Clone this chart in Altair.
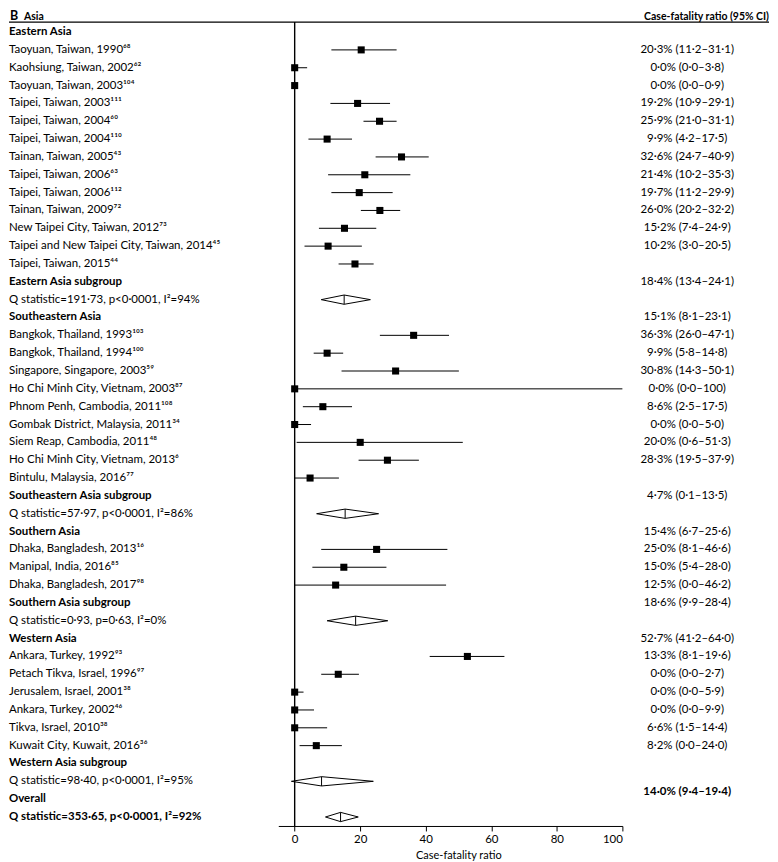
import altair as alt
import pandas as pd

# ---------------- data ----------------
labels = [
    "Eastern Asia",
    "Taoyuan, Taiwan, 1990⁶⁸",
    "Kaohsiung, Taiwan, 2002⁶²",
    "Taoyuan, Taiwan, 2003¹⁰⁴",
    "Taipei, Taiwan, 2003¹¹¹",
    "Taipei, Taiwan, 2004⁶⁰",
    "Taipei, Taiwan, 2004¹¹⁰",
    "Tainan, Taiwan, 2005⁴³",
    "Taipei, Taiwan, 2006⁶³",
    "Taipei, Taiwan, 2006¹¹²",
    "Tainan, Taiwan, 2009⁷²",
    "New Taipei City, Taiwan, 2012⁷³",
    "Taipei and New Taipei City, Taiwan, 2014⁴⁵",
    "Taipei, Taiwan, 2015⁴⁴",
    "Eastern Asia subgroup",
    "Q statistic=191·73, p<0·0001, I²=94%",
    "Southeastern Asia",
    "Bangkok, Thailand, 1993¹⁰³",
    "Bangkok, Thailand, 1994¹⁰⁰",
    "Singapore, Singapore, 2003⁵⁹",
    "Ho Chi Minh City, Vietnam, 2003⁸⁷",
    "Phnom Penh, Cambodia, 2011¹⁰⁸",
    "Gombak District, Malaysia, 2011³⁴",
    "Siem Reap, Cambodia, 2011⁴⁸",
    "Ho Chi Minh City, Vietnam, 2013⁶",
    "Bintulu, Malaysia, 2016⁷⁷",
    "Southeastern Asia subgroup",
    "Q statistic=57·97, p<0·0001, I²=86%",
    "Southern Asia",
    "Dhaka, Bangladesh, 2013¹⁶",
    "Manipal, India, 2016⁸⁵",
    "Dhaka, Bangladesh, 2017⁹⁸",
    "Southern Asia subgroup",
    "Q statistic=0·93, p=0·63, I²=0%",
    "Western Asia",
    "Ankara, Turkey, 1992⁹³",
    "Petach Tikva, Israel, 1996⁹⁷",
    "Jerusalem, Israel, 2001³⁸",
    "Ankara, Turkey, 2002⁴⁶",
    "Tikva, Israel, 2010³⁸",
    "Kuwait City, Kuwait, 2016³⁶",
    "Western Asia subgroup",
    "Q statistic=98·40, p<0·0001, I²=95%",
    "Overall",
    "Q statistic=353·65, p<0·0001, I²=92%",
]
label_rows = list(range(len(labels)))
bold_rows = [0, 14, 16, 26, 28, 32, 34, 41, 43, 44]

# individual studies (row, estimate, lower, upper)
study_rows = [1, 2, 3, 4, 5, 6, 7, 8, 9, 10, 11, 12, 13,
              17, 18, 19, 20, 21, 22, 23, 24, 25,
              29, 30, 31,
              35, 36, 37, 38, 39, 40]
study_est = [20.3, 0.0, 0.0, 19.2, 25.9, 9.9, 32.6, 21.4, 19.7, 26.0, 15.2, 10.2, 18.4,
             36.3, 9.9, 30.8, 0.0, 8.6, 0.0, 20.0, 28.3, 4.7,
             25.0, 15.0, 12.5,
             52.7, 13.3, 0.0, 0.0, 0.0, 6.6]
study_lo = [11.2, 0.0, 0.0, 10.9, 21.0, 4.2, 24.7, 10.2, 11.2, 20.2, 7.4, 3.0, 13.4,
            26.0, 5.8, 14.3, 0.0, 2.5, 0.0, 0.6, 19.5, 0.1,
            8.1, 5.4, 0.0,
            41.2, 8.1, 0.0, 0.0, 0.0, 1.5]
study_hi = [31.1, 3.8, 0.9, 29.1, 31.1, 17.5, 40.9, 35.3, 29.9, 32.2, 24.9, 20.5, 24.1,
            47.1, 14.8, 50.1, 100.0, 17.5, 5.0, 51.3, 37.9, 13.5,
            46.6, 28.0, 46.2,
            64.0, 19.6, 2.7, 5.9, 9.9, 14.4]

# pooled estimates (diamonds)
pool_rows = [15, 27, 33, 42, 44]
pool_est = [15.1, 15.4, 18.6, 8.2, 14.0]
pool_lo = [8.1, 6.7, 9.9, -1.0, 9.4]
pool_hi = [23.1, 25.6, 28.4, 24.0, 19.4]

# right-hand text column (as laid out in the figure)
ci_rows = [1, 2, 3, 4, 5, 6, 7, 8, 9, 10, 11, 12, 14, 16, 17, 18, 19, 20, 21, 22, 23, 24,
           26, 28, 29, 30, 31, 32, 34, 35, 36, 37, 38, 39, 40, 42.6]
ci_texts = [
    "20·3% (11·2–31·1)", "0·0% (0·0–3·8)", "0·0% (0·0–0·9)", "19·2% (10·9–29·1)",
    "25·9% (21·0–31·1)", "9·9% (4·2–17·5)", "32·6% (24·7–40·9)", "21·4% (10·2–35·3)",
    "19·7% (11·2–29·9)", "26·0% (20·2–32·2)", "15·2% (7·4–24·9)", "10·2% (3·0–20·5)",
    "18·4% (13·4–24·1)", "15·1% (8·1–23·1)", "36·3% (26·0–47·1)", "9·9% (5·8–14·8)",
    "30·8% (14·3–50·1)", "0·0% (0·0–100)", "8·6% (2·5–17·5)", "0·0% (0·0–5·0)",
    "20·0% (0·6–51·3)", "28·3% (19·5–37·9)", "4·7% (0·1–13·5)", "15·4% (6·7–25·6)",
    "25·0% (8·1–46·6)", "15·0% (5·4–28·0)", "12·5% (0·0–46·2)", "18·6% (9·9–28·4)",
    "52·7% (41·2–64·0)", "13·3% (8·1–19·6)", "0·0% (0·0–2·7)", "0·0% (0·0–5·9)",
    "0·0% (0·0–9·9)", "6·6% (1·5–14·4)", "8·2% (0·0–24·0)", "14·0% (9·4–19·4)",
]
ci_bold = [False] * (len(ci_texts) - 1) + [True]

x_ticks = [0, 20, 40, 60, 80, 100]

# ---------------- tables ----------------
lab_df = pd.DataFrame({"row": label_rows, "label": labels,
                       "bold": [r in bold_rows for r in label_rows]})
st_df = pd.DataFrame({"row": study_rows, "est": study_est, "lo": study_lo, "hi": study_hi})
ci_df = pd.DataFrame({"row": ci_rows, "txt": ci_texts, "bold": ci_bold})

HALF = 0.26  # diamond half height, in rows
dia_pts = []
for i, (r, e, l, h) in enumerate(zip(pool_rows, pool_est, pool_lo, pool_hi)):
    for k, (xx, yy) in enumerate([(l, r), (e, r - HALF), (h, r), (e, r + HALF), (l, r)]):
        dia_pts.append({"id": i, "k": k, "x": xx, "y": yy})
dia_df = pd.DataFrame(dia_pts)
pool_df = pd.DataFrame({"row": pool_rows, "est": pool_est,
                        "top": [r - HALF for r in pool_rows],
                        "bot": [r + HALF for r in pool_rows]})

W, H = 762, 816
FONT = "Lato"
FS = 11.5

xscale = alt.Scale(domain=[-5, 100], range=[270, 615], nice=False, zero=False)
yscale = alt.Scale(domain=[0, 44], range=[20, 807], nice=False, zero=False)

xaxis = alt.Axis(values=x_ticks, title="Case-fatality ratio", grid=False,
                 domainColor="black", tickColor="black", tickSize=5,
                 labelFont=FONT, labelFontSize=11.5, labelColor="black",
                 titleFont=FONT, titleFontSize=11, titleFontWeight="normal",
                 titleColor="black", titleX=450.5, titlePadding=4,
                 labelPadding=3)
yenc = alt.Y("row:Q", scale=yscale, axis=None)

ci_lines = alt.Chart(st_df).mark_rule(color="black", strokeWidth=1).encode(
    x=alt.X("lo:Q", scale=xscale, axis=xaxis), x2="hi:Q", y=yenc
)

squares = alt.Chart(st_df).mark_square(color="black", size=50, opacity=1).encode(
    x=alt.X("est:Q", scale=xscale), y=yenc
)

diamonds = alt.Chart(dia_df).mark_line(color="black", strokeWidth=1).encode(
    x=alt.X("x:Q", scale=xscale), y=alt.Y("y:Q", scale=yscale, axis=None),
    detail="id:N", order="k:Q"
)
dia_center = alt.Chart(pool_df).mark_rule(color="black", strokeWidth=1).encode(
    x=alt.X("est:Q", scale=xscale), y=alt.Y("top:Q", scale=yscale, axis=None), y2="bot:Q"
)

zero_line = alt.Chart(pd.DataFrame({"z": [0]})).mark_rule(color="black", strokeWidth=1.4).encode(
    x=alt.X("z:Q", scale=xscale), y=alt.value(10), y2=alt.value(H)
)
header_line = alt.Chart(pd.DataFrame({"z": [0]})).mark_rule(color="black", strokeWidth=1.2).encode(
    x=alt.value(0), x2=alt.value(W), y=alt.value(10)
)

title_left = alt.Chart(pd.DataFrame({"t": ["B"]})).mark_text(
    font=FONT, fontWeight="bold", fontSize=12.5, align="left", baseline="alphabetic", color="black"
).encode(x=alt.value(1), y=alt.value(7.5), text="t:N")
title_asia = alt.Chart(pd.DataFrame({"t": ["Asia"]})).mark_text(
    font=FONT, fontWeight="bold", fontSize=10.5, align="left", baseline="alphabetic", color="black"
).encode(x=alt.value(15), y=alt.value(7.5), text="t:N")
title_right = alt.Chart(pd.DataFrame({"t": ["Case-fatality ratio (95% CI)"]})).mark_text(
    font=FONT, fontWeight="bold", fontSize=10.5, align="right", baseline="alphabetic", color="black"
).encode(x=alt.value(W), y=alt.value(7.5), text="t:N")


def text_layer(df, field, xpix, align, weight, flag):
    return alt.Chart(df).transform_filter(
        "datum.bold" if flag else "!datum.bold"
    ).mark_text(
        font=FONT, fontSize=FS, align=align, baseline="middle", color="black", fontWeight=weight
    ).encode(x=alt.value(xpix), y=yenc, text=f"{field}:N")


layers = [
    ci_lines, zero_line, header_line, squares, diamonds, dia_center,
    title_left, title_asia, title_right,
    text_layer(lab_df, "label", 0, "left", "normal", False),
    text_layer(lab_df, "label", 0, "left", "bold", True),
    text_layer(ci_df, "txt", 680, "center", "normal", False),
    text_layer(ci_df, "txt", 680, "center", "bold", True),
]

chart = alt.layer(*layers).properties(width=W, height=H, padding=0).configure_view(stroke=None)

chart.save("out.html", embed_options={"renderer": "svg", "actions": False})
